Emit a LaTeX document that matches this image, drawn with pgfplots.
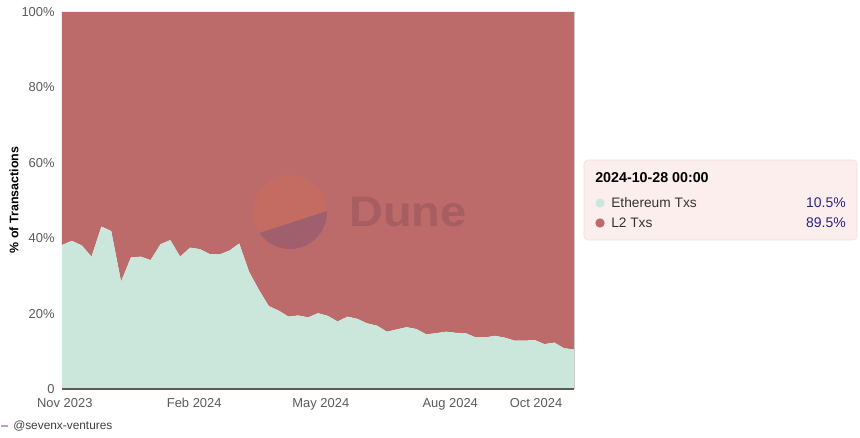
\documentclass[border=0pt]{standalone}
\usepackage{pgfplots}
\pgfplotsset{compat=1.18}
\usepackage{pgfplotstable}
\usepackage{fontspec}
\setmainfont{Liberation Sans}
\definecolor{eth}{HTML}{CBE6DB}
\definecolor{ltwo}{HTML}{BD6A6A}
\definecolor{tickgray}{HTML}{5A5A5A}
\definecolor{valblue}{HTML}{2A2580}
\definecolor{legbg}{HTML}{FBEEEC}
\definecolor{legborder}{HTML}{F1DEDB}
\definecolor{wmtop}{HTML}{C46C61}
\definecolor{wmbot}{HTML}{A05F6D}
\definecolor{wmtext}{HTML}{A65E61}
\pgfplotstableread{
day eth l2
0 38.2 61.8
7 39.3 60.7
14 38.1 61.9
21 35.1 64.9
28 43.1 56.9
35 41.9 58.1
42 28.5 71.5
49 34.9 65.1
56 35.1 64.9
63 34.2 65.8
70 38.4 61.6
77 39.5 60.5
84 35.1 64.9
91 37.5 62.5
98 37.1 62.9
105 35.8 64.2
112 35.7 64.3
119 36.7 63.3
126 38.6 61.4
133 31.1 68.9
140 26.3 73.7
147 22.0 78.0
154 20.8 79.2
161 19.2 80.8
168 19.5 80.5
175 19.0 81.0
182 20.1 79.9
189 19.4 80.6
196 17.9 82.1
203 19.2 80.8
210 18.6 81.4
217 17.4 82.6
224 16.8 83.2
231 15.2 84.8
238 15.8 84.2
245 16.4 83.6
252 15.9 84.1
259 14.5 85.5
266 14.8 85.2
273 15.2 84.8
280 14.9 85.1
287 14.8 85.2
294 13.7 86.3
301 13.7 86.3
308 14.1 85.9
315 13.6 86.4
322 12.8 87.2
329 12.8 87.2
336 13.0 87.0
343 11.9 88.1
350 12.3 87.7
357 10.8 89.2
364 10.5 89.5
}\data
\begin{document}
\begin{tikzpicture}
\path[use as bounding box] (-46.5pt,-36.75pt) rectangle (598.5pt,291.75pt);
\begin{axis}[
  at={(0pt,0pt)}, anchor=south west,
  scale only axis, width=384pt, height=282.75pt,
  xmin=0, xmax=364, ymin=0, ymax=100,
  stack plots=y,
  axis line style={draw=none},
  tick style={draw=none},
  xtick={2,94,184,276,337},
  xticklabels={Nov 2023,Feb 2024,May 2024,Aug 2024,Oct 2024},
  ytick={0,20,40,60,80,100},
  yticklabels={0,20\%,40\%,60\%,80\%,100\%},
  ticklabel style={font=\fontsize{9.7}{11}\selectfont, text=tickgray},
  xticklabel style={yshift=-3.5pt},
  yticklabel style={xshift=-2pt},
  clip=false,
]
\addplot[draw=none, fill=eth] table[x=day, y=eth] {\data} \closedcycle;
\addplot[draw=none, fill=ltwo] table[x=day, y=l2] {\data} \closedcycle;
\end{axis}
\begin{scope}[shift={(-46.5pt,291.75pt)}, x=0.75pt, y=-0.75pt]
  % axis lines
  \draw[color=tickgray, line width=1.1pt] (62,389) -- (574,389);
  \draw[color=gray!40, line width=0.4pt] (574,12) -- (574,389);
  % watermark
  \fill[wmtop] (290,212) circle[radius=27.75pt];
  \fill[wmbot] (290,212) ++(214.6:27.75pt) arc[start angle=214.6, end angle=361.5, radius=27.75pt] -- cycle;
  \node[anchor=west, inner sep=0pt, text=wmtext, font=\fontsize{32}{32}\selectfont\bfseries, xscale=1.1] at (349,212) {Dune};
  % y label
  \node[rotate=90, inner sep=0pt, font=\fontsize{9.3}{11}\selectfont\bfseries] at (14,200) {\% of Transactions};
  % legend box
  \filldraw[fill=legbg, draw=legborder, line width=0.4pt, rounded corners=3pt] (584,160) rectangle (857,240);
  \node[anchor=west, inner sep=0pt, font=\fontsize{10.7}{12}\selectfont\bfseries] at (595,178) {2024-10-28 00:00};
  \fill[eth] (600,203) circle[radius=3.5pt];
  \fill[ltwo] (600,223) circle[radius=3.5pt];
  \node[anchor=west, inner sep=0pt, font=\fontsize{10.3}{12}\selectfont, text=black!80] at (611,203) {Ethereum Txs};
  \node[anchor=west, inner sep=0pt, font=\fontsize{10.3}{12}\selectfont, text=black!80] at (611,223) {L2 Txs};
  \node[anchor=east, inner sep=0pt, font=\fontsize{10.5}{12}\selectfont, text=valblue] at (846,203) {10.5\%};
  \node[anchor=east, inner sep=0pt, font=\fontsize{10.5}{12}\selectfont, text=valblue] at (846,223) {89.5\%};
  % credit
  \fill[violet!40] (1,425) rectangle (8,427);
  \node[anchor=west, inner sep=0pt, font=\fontsize{8.9}{10}\selectfont, text=black!75] at (13,426) {@sevenx-ventures};
\end{scope}
\end{tikzpicture}
\end{document}
